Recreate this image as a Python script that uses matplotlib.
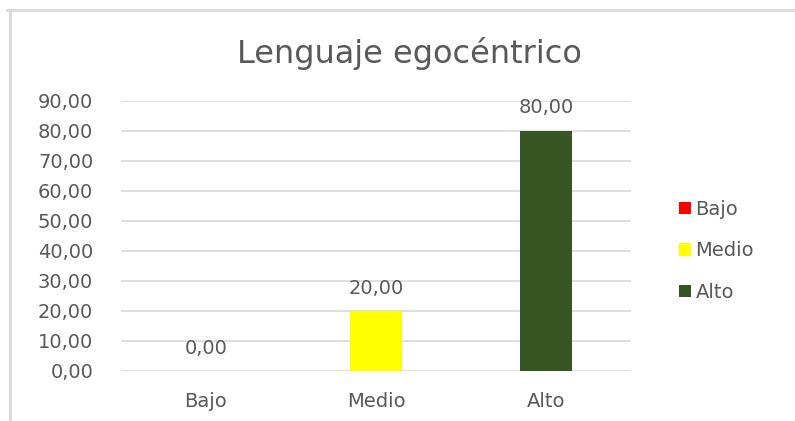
import matplotlib
matplotlib.use("Agg")
import matplotlib.pyplot as plt
from matplotlib.patches import Patch
from matplotlib.lines import Line2D

categories = ["Bajo", "Medio", "Alto"]
values = [0.0, 20.0, 80.0]
colors = ["#FF0000", "#FFFF00", "#375623"]
yticks = [0, 10, 20, 30, 40, 50, 60, 70, 80, 90]
title = "Lenguaje egocéntrico"

plt.rcParams['font.family'] = ['DejaVu Sans']
txt = "#595959"

W, H = 795, 421
fig = plt.figure(figsize=(W/100, H/100), dpi=100)
fig.patch.set_facecolor("white")

ax = fig.add_axes([121/W, 1-371/H, (631-121)/W, (371-100.7)/H])
x = list(range(len(categories)))
ax.bar(x, values, width=0.31, color=colors, zorder=3)
ax.set_xlim(-0.5, len(categories)-0.5)
ax.set_ylim(0, 90)
ax.set_yticks(yticks)
fs = 14
ax.set_yticklabels([f"{v:.2f}".replace(".", ",") for v in yticks], fontsize=fs, color=txt)
ax.set_xticks(x)
ax.set_xticklabels(categories, fontsize=fs, color=txt)
ax.tick_params(axis="both", length=0)
ax.tick_params(axis="y", pad=20)
ax.tick_params(axis="x", pad=15)
for s in ax.spines.values():
    s.set_visible(False)
ax.grid(axis="y", color="#D9D9D9", linewidth=1.2, zorder=0)
ax.set_axisbelow(True)

for xi, v in zip(x, values):
    ax.annotate(f"{v:.2f}".replace(".", ","), (xi, v), xytext=(0, 16.5), textcoords="offset points",
                ha="center", va="center", fontsize=fs, color=txt)

fig.text(409 / W, 1 - 63/H, title, ha="center", va="baseline", fontsize=23, color=txt)

handles = [Patch(facecolor=c, edgecolor="none") for c in colors]
fig.legend(handles, categories, loc="center left", bbox_to_anchor=(679/W, 1-251/H),
           frameon=False, fontsize=fs, handlelength=0.6, handleheight=0.6,
           handletextpad=0.25, labelspacing=1.15, borderpad=0, borderaxespad=0,
           labelcolor=txt)

fig.add_artist(Line2D([7/W, 1], [1-10/H, 1-10/H], color="#D9D9D9", linewidth=2))
fig.add_artist(Line2D([10/W, 10/W], [0, 1-10/H], color="#D9D9D9", linewidth=2))

fig.savefig("out.png", dpi=100)
